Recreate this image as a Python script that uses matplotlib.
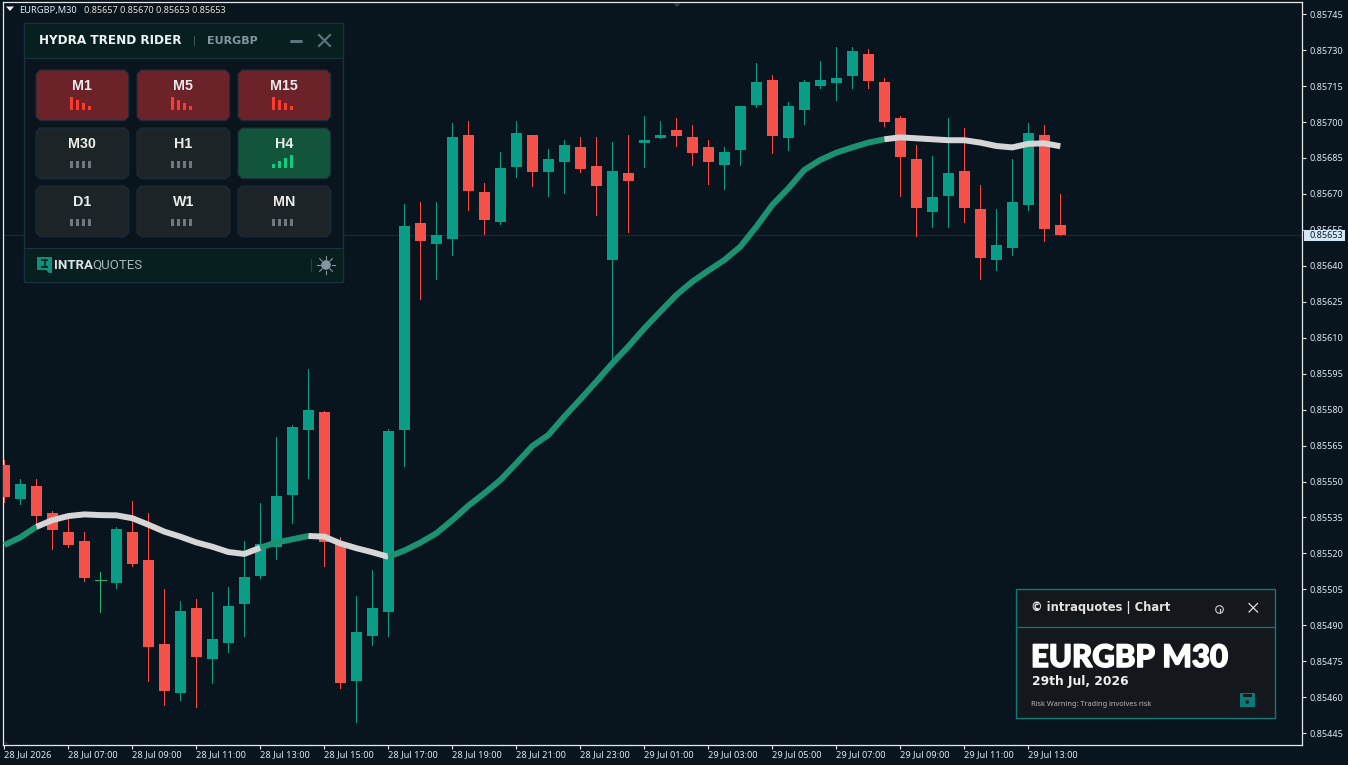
import matplotlib
matplotlib.use("Agg")
import matplotlib.pyplot as plt
import matplotlib.patheffects as pe
from matplotlib.patches import Polygon, Rectangle, Circle
import numpy as np

W, H = 1348, 765
SYMBOL = "EURGBP,M30"
QUOTE_TEXT = "0.85657 0.85670 0.85653 0.85653"
LAST_PRICE = 0.85653

opens = [0.855569,0.855427,0.855481,0.855369,0.855289,0.855252,0.855088,0.855077,0.855289,0.855173,
         0.854822,0.854618,0.854972,0.854760,0.854826,0.854989,0.855106,0.855227,0.855444,0.855715,
         0.855790,0.855244,0.854668,0.854856,0.854956,0.855715,0.856579,0.856491,0.856512,0.856946,
         0.856708,0.856583,0.856812,0.856946,0.856791,0.856833,0.856896,0.856816,0.856424,0.856787,
         0.856912,0.856933,0.856967,0.856937,0.856896,0.856821,0.856883,0.857071,0.857175,0.856933,
         0.857050,0.857150,0.857163,0.857192,0.857284,0.857167,0.857017,0.856846,0.856625,0.856691,
         0.856796,0.856637,0.856424,0.856474,0.856654,0.856946,0.856570]
highs = [0.855590,0.855511,0.855511,0.855377,0.855369,0.855289,0.855123,0.855310,0.855419,0.855369,
         0.855052,0.855002,0.855010,0.855039,0.855060,0.855252,0.855410,0.855686,0.855736,0.855970,
         0.855794,0.855269,0.855022,0.855131,0.855719,0.856658,0.856666,0.856666,0.856996,0.857004,
         0.856746,0.856875,0.857004,0.856946,0.856887,0.856925,0.856937,0.856937,0.856916,0.856946,
         0.857025,0.857004,0.857017,0.856988,0.856925,0.856896,0.857067,0.857246,0.857196,0.857083,
         0.857175,0.857254,0.857313,0.857313,0.857305,0.857184,0.857025,0.856904,0.856858,0.857017,
         0.856975,0.856737,0.856637,0.856846,0.856996,0.856988,0.856700]
lows = [0.855415,0.855406,0.855327,0.855219,0.855227,0.855085,0.854956,0.855056,0.855148,0.854668,
        0.854568,0.854589,0.854559,0.854660,0.854789,0.854856,0.855098,0.855177,0.855327,0.855515,
        0.855148,0.854639,0.854497,0.854818,0.854856,0.855565,0.856262,0.856345,0.856445,0.856633,
        0.856533,0.856574,0.856771,0.856733,0.856691,0.856704,0.856791,0.856612,0.856007,0.856541,
        0.856812,0.856933,0.856900,0.856821,0.856741,0.856720,0.856821,0.857063,0.856871,0.856883,
        0.856992,0.857142,0.857092,0.857142,0.857142,0.856983,0.856691,0.856524,0.856562,0.856562,
        0.856583,0.856345,0.856383,0.856445,0.856633,0.856504,0.856530]
closes = [0.855436,0.855490,0.855356,0.855298,0.855235,0.855098,0.855088,0.855302,0.855156,0.854810,
          0.854626,0.854960,0.854768,0.854843,0.854981,0.855102,0.855239,0.855438,0.855727,0.855798,
          0.855248,0.854660,0.854872,0.854972,0.855711,0.856566,0.856504,0.856529,0.856937,0.856712,
          0.856591,0.856808,0.856954,0.856791,0.856846,0.856904,0.856804,0.856733,0.856796,0.856754,
          0.856925,0.856946,0.856942,0.856871,0.856833,0.856875,0.857067,0.857167,0.856942,0.857067,
          0.857167,0.857175,0.857184,0.857296,0.857171,0.857000,0.856854,0.856641,0.856687,0.856787,
          0.856641,0.856433,0.856487,0.856666,0.856954,0.856554,0.856530]
trend_ma = [0.855235,0.855267,0.855311,0.855339,0.855356,0.855363,0.855360,0.855359,0.855347,0.855320,
            0.855291,0.855270,0.855246,0.855228,0.855206,0.855198,0.855224,0.855246,0.855259,0.855273,
            0.855270,0.855242,0.855222,0.855205,0.855186,0.855212,0.855245,0.855284,0.855339,0.855399,
            0.855451,0.855506,0.855576,0.855648,0.855694,0.855771,0.855843,0.855917,0.855993,0.856063,
            0.856139,0.856209,0.856278,0.856334,0.856380,0.856424,0.856480,0.856563,0.856654,0.856723,
            0.856800,0.856842,0.856872,0.856894,0.856914,0.856928,0.856936,0.856932,0.856928,0.856924,
            0.856924,0.856914,0.856900,0.856894,0.856909,0.856911,0.856899]
# (first index, last index, colour name) of every stretch of the trend line
trend_runs = [(0, 2, "up"), (2, 16, "flat"), (16, 19, "up"), (19, 24, "flat"), (24, 55, "up"), (55, 66, "flat")]
price_ticks = [0.85445 + 0.00015 * k for k in range(21)]
time_labels = ["28 Jul 2026", "28 Jul 07:00", "28 Jul 09:00", "28 Jul 11:00", "28 Jul 13:00", "28 Jul 15:00",
               "28 Jul 17:00", "28 Jul 19:00", "28 Jul 21:00", "28 Jul 23:00", "29 Jul 01:00", "29 Jul 03:00",
               "29 Jul 05:00", "29 Jul 07:00", "29 Jul 09:00", "29 Jul 11:00", "29 Jul 13:00"]
tf_names = ["M1", "M5", "M15", "M30", "H1", "H4", "D1", "W1", "MN"]
tf_state = ["dn", "dn", "dn", "na", "na", "up", "na", "na", "na"]
bar_heights = {"dn": [13, 10, 7, 4], "up": [4, 7, 10, 13], "na": [7, 7, 7, 7]}

BG = "#08141e"
BULL = "#099c86"
BEAR = "#f4524b"
BEAR_WICK = "#fb4943"
DOJI = "#2bb673"
AXC = "#e6e8ea"
TXT = "#dfeaf4"
TREND = {"up": "#1b9272", "flat": "#d6d6d6"}
UI_FONT = ["Noto Sans", "DejaVu Sans"]

fig = plt.figure(figsize=(W / 100, H / 100), dpi=100, facecolor=BG)
L, R, T, B = 3.0, 1302.0, 2.0, 745.0
ax = fig.add_axes([L / W, 1 - B / H, (R - L) / W, (B - T) / H], facecolor=BG)
x0, step = 4.33, 16.0
ax.set_xlim((L - x0) / step, (R - x0) / step)
py = lambda y: (750.9 - 0.4172 * y) * 1e-5 + 0.85
ax.set_ylim(py(B), py(T))

x = np.arange(len(opens))
o, h, l, c = map(np.array, (opens, highs, lows, closes))
up = c >= o
flat = np.abs(c - o) < 1e-7
wick_col = [DOJI if f else (BULL if u else BEAR_WICK) for u, f in zip(up, flat)]
ax.vlines(x, l, h, colors=wick_col, linewidth=0.72, zorder=2, antialiased=False)
solid = ~flat
ax.bar(x[solid], np.abs(c - o)[solid], bottom=np.minimum(o, c)[solid], width=11 / step,
       color=[BULL if u else BEAR for u in up[solid]], linewidth=0, zorder=3, antialiased=False)
ax.hlines(c[flat], x[flat] - 5.5 / step, x[flat] + 5.5 / step, colors=DOJI, linewidth=0.72, zorder=3, antialiased=False)
ax.axhline(LAST_PRICE, color="#1d2a33", linewidth=0.8, zorder=1)

for a, b, kind in trend_runs:
    ax.plot(x[a:b + 1], np.array(trend_ma)[a:b + 1], color=TREND[kind], linewidth=4.3,
            solid_capstyle="butt", solid_joinstyle="round", zorder=4)

for s in ax.spines.values():
    s.set_color(AXC)
    s.set_linewidth(0.9)
ax.yaxis.tick_right()
ax.set_yticks(price_ticks)
ax.set_yticklabels([f"{p:.5f}" for p in price_ticks], fontsize=6.5, color=TXT, family=UI_FONT)
ax.tick_params(axis="y", direction="out", length=3, width=0.8, color=AXC, pad=2.2)
ax.set_xticks(np.arange(len(time_labels)) * 4)
ax.set_xticklabels(time_labels, fontsize=6.6, color=TXT, family=UI_FONT, ha="left")
ax.tick_params(axis="x", direction="out", length=3, width=0.8, color=AXC, pad=1)

ui = fig.add_axes([0, 0, 1, 1], facecolor="none", zorder=10)
ui.set_xlim(0, W)
ui.set_ylim(H, 0)
ui.axis("off")


def rect(x1, y1, x2, y2, fc, ec="none", lw=0.8, z=1):
    ui.add_patch(Rectangle((x1, y1), x2 - x1, y2 - y1, facecolor=fc, edgecolor=ec, linewidth=lw, zorder=z))


def chamfer(x1, y1, x2, y2, r, fc, ec, z=2):
    pts = [(x1 + r, y1), (x2 - r, y1), (x2, y1 + r), (x2, y2 - r), (x2 - r, y2), (x1 + r, y2), (x1, y2 - r), (x1, y1 + r)]
    ui.add_patch(Polygon(pts, closed=True, facecolor=fc, edgecolor=ec, linewidth=0.8, zorder=z))


def label(px, py_, s, size, color, weight="normal", ha="left", family=UI_FONT, z=5):
    return ui.text(px, py_, s, fontsize=size, color=color, fontweight=weight, ha=ha, va="center", family=family, zorder=z)


# header strip
ui.add_patch(Polygon([(6, 6.5), (14, 6.5), (10, 11)], closed=True, facecolor="#f2f2f2", edgecolor="none"))
label(19, 10, SYMBOL, 6.7, TXT)
label(84, 10, QUOTE_TEXT, 6.5, "#e8e4d4")
ui.add_patch(Polygon([(673, 3), (681, 3), (677, 7)], closed=True, facecolor="#33404a", edgecolor="none"))
ui.add_patch(Polygon([(4, 740), (4, 745), (9, 745)], closed=True, facecolor="#26323b", edgecolor="none"))

# last price tag
rect(1304, 230, 1345, 241, "#d5e6f5")
label(1309, 235, f"{LAST_PRICE:.5f}", 6.5, "#0b1a26")

# trend panel
rect(24, 23, 343, 282, "#0a141d", "#1a3140", 1.0)
rect(24, 23, 343, 58, "#081f20", "#1a3140", 0.8, z=1.5)
rect(24, 248, 343, 282, "#081f20", "#1a3140", 0.8, z=1.5)
label(39, 40.5, "HYDRA TREND RIDER", 8.65, "#eef2f2", "bold", family=["DejaVu Sans"])
ui.plot([194, 194], [36, 45], color="#3d5560", lw=0.8, zorder=5)
label(207, 40.5, "EURGBP", 8.0, "#7f97a2", "bold", family=["DejaVu Sans"])
ui.plot([291, 301], [40.5, 40.5], color="#5c7582", lw=2.2, zorder=5, solid_capstyle="round")
ui.plot([319, 330], [35, 46], color="#5c7582", lw=1.5, zorder=5)
ui.plot([319, 330], [46, 35], color="#5c7582", lw=1.5, zorder=5)

col_left = [36, 137, 238]
row_top = [70, 128, 186]
FACE = {"dn": "#6b2229", "up": "#12553a", "na": "#1d2428"}
BARC = {"dn": "#ff3b30", "up": "#12cc82", "na": "#6f7980"}
for k, (name, st) in enumerate(zip(tf_names, tf_state)):
    cx, ry = col_left[k % 3], row_top[k // 3]
    chamfer(cx, ry, cx + 92.7, ry + 50.7, 4, FACE[st], "#1a2d3c")
    label(cx + 46.3, ry + 15.5, name, 10.3, "#ececec", "bold", ha="center", family=["Liberation Sans"])
    for j, hh in enumerate(bar_heights[st]):
        bx = cx + 34 + j * 6
        rect(bx, ry + 39.7 - hh, bx + 3.3, ry + 39.7, BARC[st], z=4)

# footer
ui.add_patch(Polygon([(37, 257), (52, 257), (52, 273), (49, 273), (46, 270), (37, 270)], closed=True, facecolor="#10907b", edgecolor="none", zorder=4))
rect(41, 259, 48, 261, "#07302c", z=5)
rect(43.5, 261, 45.5, 266, "#07302c", z=5)
rect(41, 266, 48, 268, "#07302c", z=5)
label(54, 265.5, "INTRA", 9.5, "#dde3e3", "bold", family=["Roboto", "DejaVu Sans"])
label(92.5, 265.5, "QUOTES", 9.5, "#a9b5b7", family=["Roboto", "DejaVu Sans"])
ui.plot([311, 311], [259, 271], color="#24404a", lw=0.8, zorder=5)
ui.add_patch(Circle((326, 265), 4.8, facecolor="#8296a0", edgecolor="none", zorder=5))
for ang in np.arange(0, 360, 45):
    ca, sa = np.cos(np.radians(ang)), np.sin(np.radians(ang))
    ui.plot([326 + 5.5 * ca, 326 + 9 * ca], [265 + 5.5 * sa, 265 + 9 * sa], color="#8296a0", lw=0.8, zorder=5)

# chart card
rect(1016, 589, 1275, 718, "#14181d", "#0b7a78", 1.0)
ui.plot([1016, 1275], [627, 627], color="#0b7a78", lw=0.9, zorder=3)
label(1031, 608, "© intraquotes | Chart", 8.3, "#e2e2e2", "bold", family=["DejaVu Sans"])
ui.add_patch(Circle((1219.5, 609.5), 3.8, facecolor="none", edgecolor="#d0d0d0", linewidth=0.8, zorder=5))
ui.plot([1219.5, 1219.5], [608.5, 612], color="#d0d0d0", lw=0.9, zorder=5)
ui.plot([1249, 1257.5], [603.5, 612], color="#e0e0e0", lw=0.9, zorder=5)
ui.plot([1249, 1257.5], [612, 603.5], color="#e0e0e0", lw=0.9, zorder=5)
big = label(1031, 658, "EURGBP M30", 22.4, "#ffffff", 900, family=["Lato", "DejaVu Sans"])
big.set_path_effects([pe.withStroke(linewidth=1.1, foreground="#ffffff")])
label(1031.5, 681.5, "29th Jul, 2026", 8.9, "#f0f0f0", "bold", family=["DejaVu Sans"])
label(1031, 704, "Risk Warning: Trading involves risk", 5.3, "#b5b5b5")
rect(1240, 693, 1254.5, 707, "#0b7a78", z=4)
rect(1243, 693.5, 1251.5, 697, "#14181d", z=5)
ui.add_patch(Circle((1247.3, 702), 1.7, facecolor="#14181d", edgecolor="none", zorder=5))

fig.savefig("out.png", dpi=100, facecolor=BG)
